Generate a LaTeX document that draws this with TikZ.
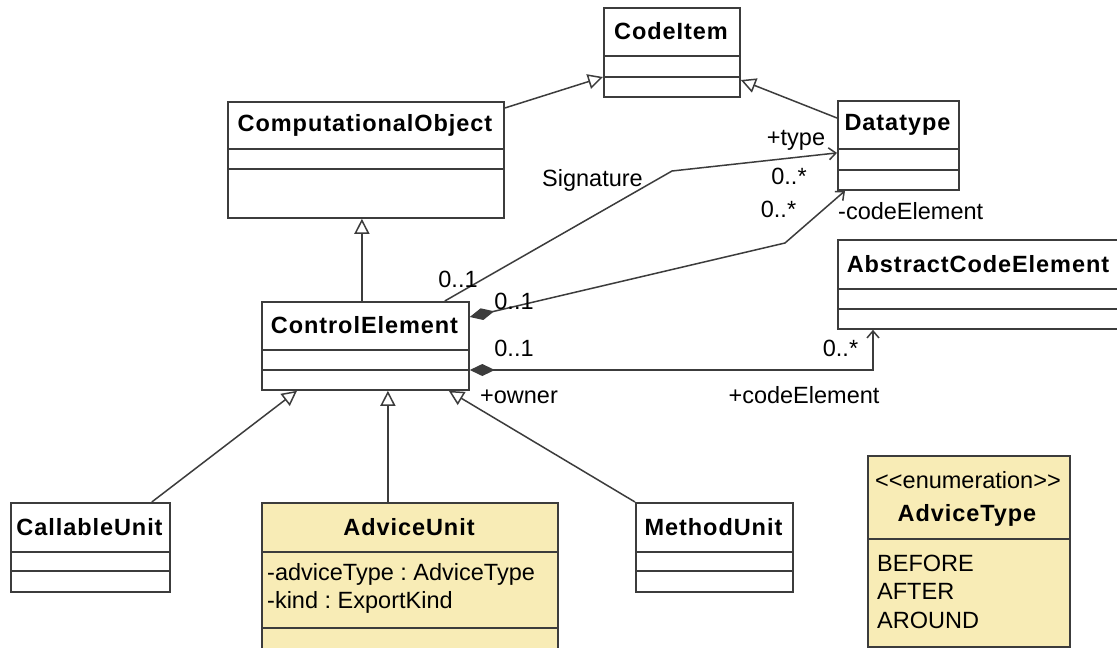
\documentclass[tikz,border=0pt]{standalone}
\usepackage{fontspec}
\setmainfont{Liberation Sans}
\newfontfamily\titlefont[LetterSpace=4]{Liberation Sans}
\usetikzlibrary{arrows.meta}
\definecolor{umlline}{RGB}{60,60,60}
\definecolor{umlyellow}{RGB}{248,236,182}
\frenchspacing
\begin{document}
\begin{tikzpicture}[x=1pt,y=-1pt,
  umlbox/.style={draw=umlline, line width=1.8pt, fill=white, anchor=north west, inner sep=0pt},
  divline/.style={draw=umlline, line width=1.8pt},
  title/.style={font=\titlefont\bfseries\fontsize{23.5}{28}\selectfont, inner sep=0pt},
  lbl/.style={font=\fontsize{23.5}{28}\selectfont, inner sep=0pt},
  conn/.style={draw=umlline, line width=1.5pt},
  gen/.style={conn, -{Triangle[open, length=15pt, width=15pt, fill=white]}},
  assoc/.style={conn, -{Straight Barb[length=7pt, width=12pt]}},
  comp/.style={conn, {Diamond[length=25pt, width=12pt, fill=umlline]}-{Straight Barb[length=7pt, width=12pt]}}
]
\useasboundingbox (0,0) rectangle (1117,648);
\fill[white] (0,0) rectangle (1117,648);

% class boxes
\node[umlbox, minimum width=136pt, minimum height=89pt] (ci) at (603,7) {};
\node[umlbox, minimum width=121pt, minimum height=89pt] (dt) at (837,100) {};
\node[umlbox, minimum width=276pt, minimum height=116pt] (co) at (227,101) {};
\node[umlbox, minimum width=207pt, minimum height=88pt] (ce) at (261,301) {};
\node[umlbox, minimum width=283pt, minimum height=89pt] (ace) at (837,239) {};
\node[umlbox, minimum width=159pt, minimum height=89pt] (cu) at (10,502) {};
\node[umlbox, fill=umlyellow, minimum width=296pt, minimum height=160pt] (au) at (261,502) {};
\node[umlbox, minimum width=157pt, minimum height=89pt] (mu) at (635,502) {};
\node[umlbox, fill=umlyellow, minimum width=202pt, minimum height=191pt] (at) at (867,455) {};

% compartments
\draw[divline] ([yshift=-49pt]ci.north west) -- ([yshift=-49pt]ci.north east);
\draw[divline] ([yshift=-70pt]ci.north west) -- ([yshift=-70pt]ci.north east);
\draw[divline] ([yshift=-49pt]dt.north west) -- ([yshift=-49pt]dt.north east);
\draw[divline] ([yshift=-70pt]dt.north west) -- ([yshift=-70pt]dt.north east);
\draw[divline] ([yshift=-48pt]co.north west) -- ([yshift=-48pt]co.north east);
\draw[divline] ([yshift=-68pt]co.north west) -- ([yshift=-68pt]co.north east);
\draw[divline] ([yshift=-49pt]ce.north west) -- ([yshift=-49pt]ce.north east);
\draw[divline] ([yshift=-69pt]ce.north west) -- ([yshift=-69pt]ce.north east);
\draw[divline] ([yshift=-50pt]ace.north west) -- ([yshift=-50pt]ace.north east);
\draw[divline] ([yshift=-70pt]ace.north west) -- ([yshift=-70pt]ace.north east);
\draw[divline] ([yshift=-50pt]cu.north west) -- ([yshift=-50pt]cu.north east);
\draw[divline] ([yshift=-69pt]cu.north west) -- ([yshift=-69pt]cu.north east);
\draw[divline] ([yshift=-50pt]au.north west) -- ([yshift=-50pt]au.north east);
\draw[divline] ([yshift=-126pt]au.north west) -- ([yshift=-126pt]au.north east);
\draw[divline] ([yshift=-50pt]mu.north west) -- ([yshift=-50pt]mu.north east);
\draw[divline] ([yshift=-69pt]mu.north west) -- ([yshift=-69pt]mu.north east);
\draw[divline] ([yshift=-84pt]at.north west) -- ([yshift=-84pt]at.north east);

% names
\node[title] (ci-name) at (671,31.5) {CodeItem};
\node[title] (dt-name) at (897.5,124.5) {Datatype};
\node[title] (co-name) at (365,125) {ComputationalObject};
\node[title] (ce-name) at (364.5,325.5) {ControlElement};
\node[title] (ace-name) at (978,264) {AbstractCodeElement};
\node[title] (cu-name) at (89.5,527) {CallableUnit};
\node[title] (au-name) at (409,527) {AdviceUnit};
\node[title] (mu-name) at (713.5,527) {MethodUnit};
\node[lbl] (at-st) at (968,480) {<\kern0pt<enumeration>\kern0pt>};
\node[title] (at-name) at (967,515) {AdviceType};

% attributes and literals
\node[lbl, anchor=west] (au-a1) at (267,574) {-adviceType : AdviceType};
\node[lbl, anchor=west] (au-a2) at (267,602.5) {-kind : ExportKind};
\node[lbl, anchor=west] (at-l1) at (877,563.5) {BEFORE};
\node[lbl, anchor=west] (at-l2) at (877,591.5) {AFTER};
\node[lbl, anchor=west] (at-l3) at (877,620) {AROUND};

% generalizations
\draw[gen] ([yshift=-7pt]co.north east) -- ([yshift=-70pt]ci.north west);
\draw[gen] ([yshift=-18pt]dt.north west) -- ([yshift=-73pt]ci.north east);
\coordinate (cegen) at ([xshift=-3.5pt]ce.north);
\draw[gen] (cegen) -- (cegen |- co.south);
\draw[gen] ([xshift=-19pt]cu.north east) -- ([xshift=36pt]ce.south west);
\coordinate (augen) at ([xshift=22.5pt]ce.south);
\draw[gen] (au.north -| augen) -- (augen);
\draw[gen] (mu.north west) -- ([xshift=-21pt]ce.south east);

% associations
\coordinate (sigbend) at (672,171);
\draw[assoc] ([xshift=-25pt]ce.north east) -- (sigbend) -- ([yshift=-7.5pt]dt.west);
\coordinate (cebend) at (785,243);
\draw[comp] ([yshift=-16pt]ce.north east) -- (cebend) -- ([xshift=8pt]dt.south west);
\draw[comp] ([yshift=-69pt]ce.north east) -| ([xshift=36pt]ace.south west);

% association labels
\node[lbl] (sig) at (592.5,180.5) {Signature};
\node[lbl] (m-type) at (796,140) {+type};
\node[lbl] (m1) at (789,176.5) {0..*};
\node[lbl] (m2) at (778.5,209) {0..*};
\node[lbl, anchor=west] (r-ce) at (838,211) {-codeElement};
\node[lbl] (m3) at (458,279) {0..1};
\node[lbl] (m4) at (514,301.5) {0..1};
\node[lbl] (m5) at (514,348.5) {0..1};
\node[lbl] (m6) at (840.5,348.5) {0..*};
\node[lbl] (owner) at (519,396.5) {+owner};
\node[lbl] (r-ce2) at (804,395) {+codeElement};
\end{tikzpicture}
\end{document}
